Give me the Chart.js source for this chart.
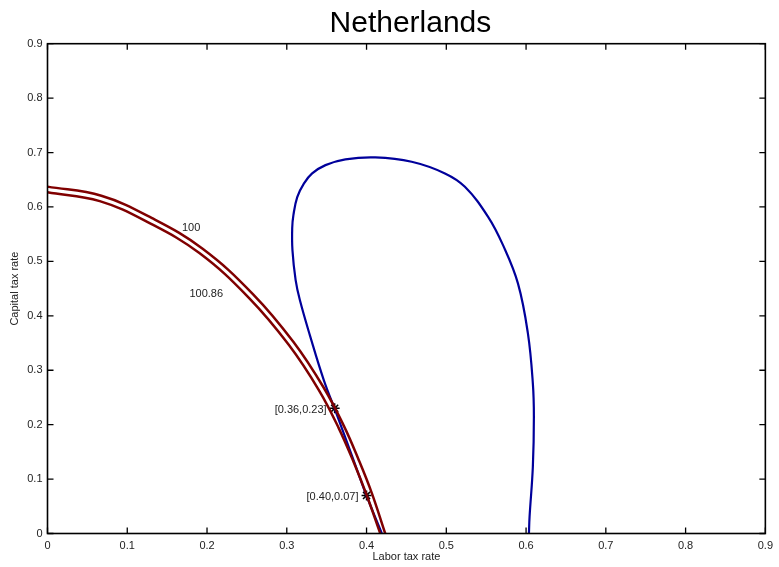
<!DOCTYPE html>
<html lang="en">
<head>
    <meta charset="UTF-8">
    <title>Netherlands</title>
    <script src="https://cdn.jsdelivr.net/npm/chart.js"></script>
    <style>
        html, body { margin: 0; padding: 0; background: white; }
        #wrap { width: 779px; height: 567px; }
    </style>
</head>
<body>
    <div id="wrap"><canvas id="chartCanvas" width="779" height="567"></canvas></div>

    <script>
        // contour "100" (outer maroon curve)
        const contour100X = [0, 0.0675, 0.1311, 0.1945, 0.2578, 0.3082, 0.3460, 0.3714, 0.3902, 0.4066, 0.4234];
        const contour100Y = [0.6374, 0.6205, 0.5794, 0.5233, 0.4396, 0.3523, 0.2687, 0.1982, 0.1352, 0.0742, 0];

        // contour "100.86" (inner maroon curve)
        const contour10086X = [0, 0.0655, 0.1280, 0.1904, 0.2528, 0.3027, 0.3402, 0.3651, 0.3838, 0.4001, 0.4172];
        const contour10086Y = [0.627, 0.6108, 0.5703, 0.5152, 0.4325, 0.3462, 0.2635, 0.1937, 0.1313, 0.0707, 0];

        // blue loop, from the left foot round to the right foot
        const loopX = [0.4192, 0.4005, 0.3814, 0.3630, 0.3464, 0.3289, 0.3164, 0.3111, 0.3071, 0.3068, 0.3083, 0.3131,
                       0.3214, 0.3318, 0.3485, 0.3735, 0.4109, 0.4566, 0.4983, 0.5233, 0.5524, 0.5711, 0.5898, 0.6023,
                       0.6085, 0.6098, 0.6085, 0.6044, 0.6036];
        const loopY = [0, 0.0676, 0.1442, 0.2177, 0.2820, 0.3646, 0.4289, 0.4657, 0.5207, 0.5612, 0.5850, 0.6181,
                       0.6429, 0.6616, 0.6769, 0.6874, 0.6910, 0.6830, 0.6616, 0.6370, 0.5819, 0.5299, 0.4596, 0.3677,
                       0.2759, 0.2145, 0.1227, 0.0309, 0];

        // marked points and their labels
        const markX = [0.36, 0.40];
        const markY = [0.23, 0.07];
        const markLabels = ['[0.36,0.23]', '[0.40,0.07]'];

        // contour level labels
        const levelLabels = ['100', '100.86'];
        const levelX = [0.18, 0.199];
        const levelY = [0.5606, 0.4394];

        const tickValues = [0, 0.1, 0.2, 0.3, 0.4, 0.5, 0.6, 0.7, 0.8, 0.9];

        const FONT = '"Liberation Sans", Arial, sans-serif';

        function toPoints(xs, ys) {
            return xs.map((x, i) => ({ x: x, y: ys[i] }));
        }

        function fmtTick(v) {
            return v === 0 ? '0' : v.toFixed(1);
        }

        // box, inward ticks, title and text annotations
        const framePlugin = {
            id: 'frame',
            afterDatasetsDraw(chart) {
                const ctx = chart.ctx;
                const a = chart.chartArea;
                const xs = chart.scales.x;
                const ys = chart.scales.y;
                const len = 6;

                ctx.save();
                ctx.strokeStyle = '#000';
                ctx.lineWidth = 1.3;
                ctx.beginPath();
                tickValues.forEach(v => {
                    const px = xs.getPixelForValue(v);
                    ctx.moveTo(px, a.bottom); ctx.lineTo(px, a.bottom - len);
                    ctx.moveTo(px, a.top); ctx.lineTo(px, a.top + len);
                    const py = ys.getPixelForValue(v);
                    ctx.moveTo(a.left, py); ctx.lineTo(a.left + len, py);
                    ctx.moveTo(a.right, py); ctx.lineTo(a.right - len, py);
                });
                ctx.stroke();
                ctx.lineWidth = 1.6;
                ctx.strokeRect(a.left, a.top, a.right - a.left, a.bottom - a.top);

                // level labels
                ctx.fillStyle = '#222';
                ctx.font = '11px ' + FONT;
                ctx.textAlign = 'center';
                ctx.textBaseline = 'middle';
                levelLabels.forEach((t, i) => {
                    ctx.fillText(t, xs.getPixelForValue(levelX[i]), ys.getPixelForValue(levelY[i]));
                });

                // point labels, to the left of each marker
                ctx.textAlign = 'right';
                markLabels.forEach((t, i) => {
                    ctx.fillText(t, xs.getPixelForValue(markX[i]) - 8, ys.getPixelForValue(markY[i]) + 2);
                });

                // title
                ctx.fillStyle = '#000';
                ctx.font = '30px ' + FONT;
                ctx.textAlign = 'center';
                ctx.textBaseline = 'alphabetic';
                ctx.fillText('Netherlands', (a.left + a.right) / 2 + 4, 32);
                ctx.restore();
            }
        };

        new Chart(document.getElementById('chartCanvas'), {
            type: 'scatter',
            data: {
                datasets: [
                    {
                        label: '100',
                        data: toPoints(contour100X, contour100Y),
                        showLine: true,
                        borderColor: '#800000',
                        borderWidth: 2.5,
                        pointRadius: 0,
                        tension: 0.4
                    },
                    {
                        label: '100.86',
                        data: toPoints(contour10086X, contour10086Y),
                        showLine: true,
                        borderColor: '#800000',
                        borderWidth: 2.5,
                        pointRadius: 0,
                        tension: 0.4
                    },
                    {
                        label: 'loop',
                        data: toPoints(loopX, loopY),
                        showLine: true,
                        borderColor: '#00009b',
                        borderWidth: 2.2,
                        pointRadius: 0,
                        tension: 0.4
                    },
                    {
                        label: 'marks',
                        data: toPoints(markX, markY),
                        showLine: false,
                        pointStyle: 'star',
                        pointRadius: 5,
                        borderColor: '#000',
                        borderWidth: 1.5,
                        backgroundColor: '#000'
                    }
                ]
            },
            options: {
                responsive: false,
                animation: false,
                layout: { padding: { left: 0, top: 43.7, right: 10.5, bottom: 0 } },
                plugins: {
                    legend: { display: false },
                    tooltip: { enabled: false }
                },
                scales: {
                    x: {
                        type: 'linear',
                        min: 0,
                        max: 0.9,
                        grid: { display: false, drawTicks: false },
                        border: { display: false },
                        afterBuildTicks: s => { s.ticks = tickValues.map(v => ({ value: v })); },
                        afterFit: s => { s.height = 33.5; },
                        ticks: {
                            padding: 6,
                            color: '#222',
                            font: { family: FONT, size: 11 },
                            maxRotation: 0,
                            callback: v => fmtTick(v)
                        },
                        title: {
                            display: true,
                            text: 'Labor tax rate',
                            color: '#222',
                            font: { family: FONT, size: 11 },
                            padding: { top: 0, bottom: 3 }
                        }
                    },
                    y: {
                        type: 'linear',
                        min: 0,
                        max: 0.9,
                        grid: { display: false, drawTicks: false },
                        border: { display: false },
                        afterBuildTicks: s => { s.ticks = tickValues.map(v => ({ value: v })); },
                        afterFit: s => { s.width = 47.5; },
                        ticks: {
                            padding: 5,
                            color: '#222',
                            font: { family: FONT, size: 11 },
                            callback: v => fmtTick(v)
                        },
                        title: {
                            display: true,
                            text: 'Capital tax rate',
                            color: '#222',
                            font: { family: FONT, size: 11 },
                            padding: { top: 8, bottom: 0 }
                        }
                    }
                }
            },
            plugins: [framePlugin]
        });
    </script>
</body>
</html>
